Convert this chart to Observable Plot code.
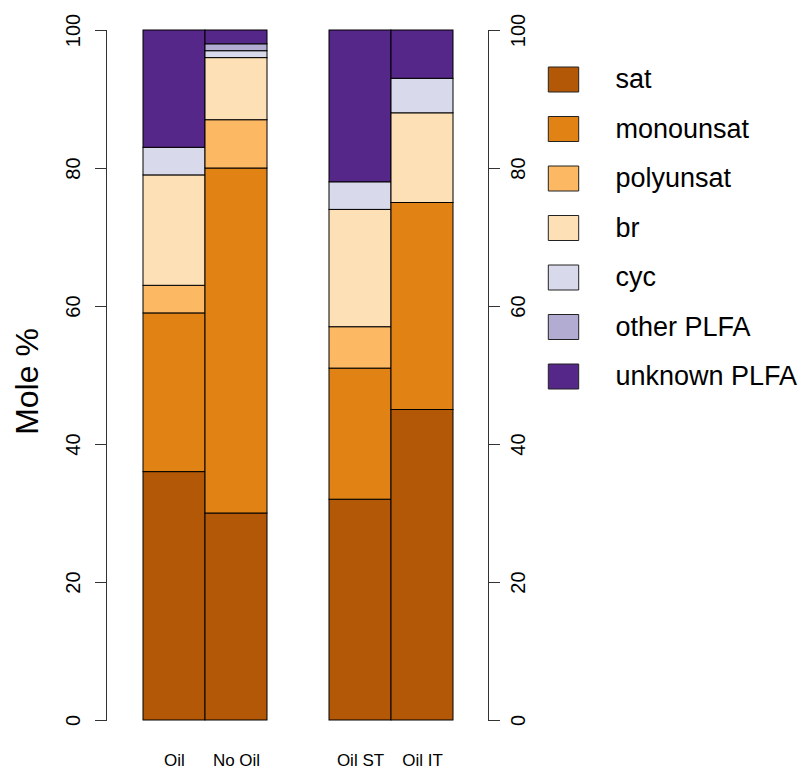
<!DOCTYPE html>
<html>
<head>
<meta charset="utf-8">
<script src="https://cdn.jsdelivr.net/npm/d3@7"></script>
<script src="https://cdn.jsdelivr.net/npm/@observablehq/plot@0.6"></script>
<style>
  html, body { margin: 0; padding: 0; background: #fff; }
  #chart svg { display: block; }
</style>
</head>
<body>
<div id="chart"></div>
<script>
const categories = ["Oil", "No Oil", "", "Oil ST", "Oil IT"];
const types = ["sat", "monounsat", "polyunsat", "br", "cyc", "other PLFA", "unknown PLFA"];
const colors = ["#B35806", "#E08214", "#FDB863", "#FEE0B6", "#D8DAEB", "#B2ABD2", "#542788"];
const oil    = [36, 23, 4, 16, 4, 0, 17];
const noOil  = [30, 50, 7, 9, 1, 1, 2];
const oilST  = [32, 19, 6, 17, 4, 0, 22];
const oilIT  = [45, 30, 0, 13, 5, 0, 7];
const yTicks = [0, 20, 40, 60, 80, 100];

const series = [["Oil", oil], ["No Oil", noOil], ["Oil ST", oilST], ["Oil IT", oilIT]];
const rows = [];
for (const [cat, vals] of series) {
  types.forEach((t, i) => { if (vals[i] > 0) rows.push({cat, type: t, value: vals[i]}); });
}

const font = "Liberation Sans, Arial, Helvetica, sans-serif";
const legendBox = {draw(context) { context.rect(-15.2, -12.5, 30.4, 25); }};

const legendMarks = [];
types.forEach((t, i) => {
  legendMarks.push(Plot.dot([t], {frameAnchor: "top-right", dx: 75, dy: 79 - 30 + i * 49.5,
    symbol: legendBox, r: 5, fill: d => d, stroke: "#222", strokeWidth: 1}));
  legendMarks.push(Plot.text([t], {frameAnchor: "top-right", dx: 127, dy: 79 - 30 + i * 49.5,
    text: d => d, textAnchor: "start", lineAnchor: "middle", fontSize: 27, fill: "#000"}));
});

const chart = Plot.plot({
  width: 805,
  height: 772,
  marginTop: 30,
  marginBottom: 52,
  marginLeft: 106,
  marginRight: 317,
  style: {fontFamily: font, background: "#fff"},
  x: {domain: categories, range: [142.7, 452.7], padding: 0, axis: null},
  y: {domain: [0, 100], axis: null},
  color: {domain: types, range: colors},
  marks: [
    Plot.barY(rows, {x: "cat", y: "value", fill: "type", stroke: "#000", strokeWidth: 1}),
    Plot.frame({anchor: "left", stroke: "#333"}),
    Plot.frame({anchor: "right", stroke: "#333"}),
    Plot.axisY(yTicks, {anchor: "left", label: null, tickSize: 11, tickFormat: () => "", stroke: "#333"}),
    Plot.axisY(yTicks, {anchor: "right", label: null, tickSize: 11, tickFormat: () => "", stroke: "#333"}),
    Plot.text(yTicks, {y: d => d, frameAnchor: "left", dx: -33, rotate: -90, textAnchor: "middle", lineAnchor: "middle",
      text: d => String(d), fontSize: 20, fill: "#000"}),
    Plot.text(yTicks, {y: d => d, frameAnchor: "right", dx: 30, rotate: -90, textAnchor: "middle", lineAnchor: "middle",
      text: d => String(d), fontSize: 20, fill: "#000"}),
    Plot.text(categories.filter(c => c !== ""), {x: d => d, frameAnchor: "bottom", dy: 40, textAnchor: "middle", lineAnchor: "middle",
      text: d => d, fontSize: 17, fill: "#000"}),
    Plot.text(["Mole %"], {frameAnchor: "left", dx: -79, dy: 6, rotate: -90, textAnchor: "middle", lineAnchor: "middle",
      text: d => d, fontSize: 32, fill: "#000"}),
    ...legendMarks
  ]
});
document.getElementById("chart").appendChild(chart);
</script>
</body>
</html>
